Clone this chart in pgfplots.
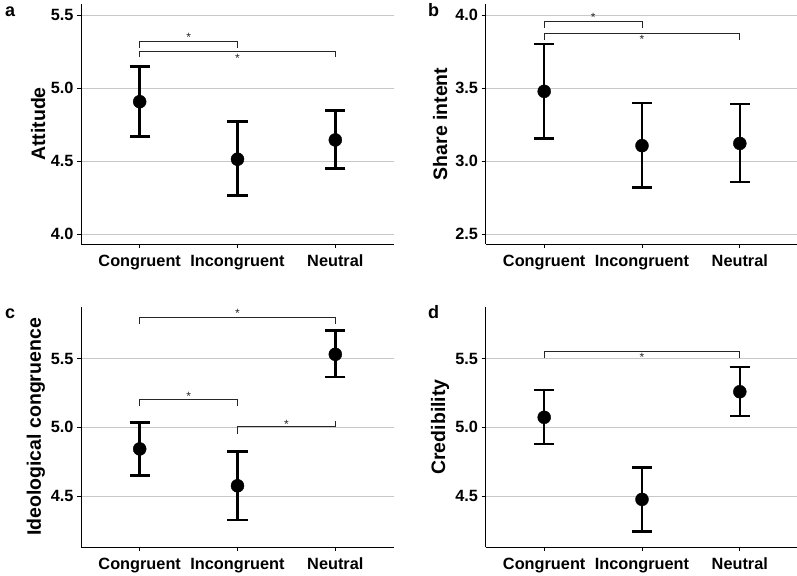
\documentclass[border=0pt]{standalone}
\usepackage{fontspec}
\setmainfont{Liberation Sans}
\usepackage{pgfplots}
\usepackage{pgfplotstable}
\pgfplotsset{compat=1.18}

\pgfplotstableread{
x y lo hi
1 4.906 4.667 5.149
2 4.512 4.262 4.770
3 4.644 4.450 4.845
}\dataA
\pgfplotstableread{
x y lo hi
1 3.477 3.153 3.800
2 3.105 2.820 3.397
3 3.120 2.856 3.390
}\dataB
\pgfplotstableread{
x y lo hi
1 4.843 4.649 5.036
2 4.575 4.326 4.823
3 5.531 5.367 5.706
}\dataC
\pgfplotstableread{
x y lo hi
1 5.073 4.879 5.272
2 4.476 4.241 4.709
3 5.259 5.083 5.439
}\dataD

\pgfplotsset{
  panel/.style={
    scale only axis, width=313bp, height=240bp,
    anchor=south west,
    axis lines*=left,
    axis line style={line width=0.8bp, black},
    xmin=0.4, xmax=3.6, xtick={1,2,3},
    xticklabels={Congruent,Incongruent,Neutral},
    ymajorgrids, grid style={line width=0.8bp, black!22},
    tick style={line width=0.8bp, black},
    tick align=outside, major tick length=4bp,
    ticklabel style={font=\bfseries\fontsize{16.3bp}{18bp}\selectfont, black},
    xticklabel style={text height=12bp, text depth=3.5bp, yshift=-3bp},
    /pgf/number format/assume math mode=true,
    yticklabel style={/pgf/number format/fixed, /pgf/number format/fixed zerofill, /pgf/number format/precision=1},
    label style={font=\bfseries\fontsize{19.5bp}{22bp}\selectfont, black},
    clip=false,
  },
  errplot/.style={only marks, mark=*, mark size=6.5bp, black,
    mark options={fill=black, draw=black},
    error bars/.cd, y dir=both, y explicit,
    error bar style={line width=2.6bp, black},
    error mark options={rotate=90, mark size=10bp, line width=2.6bp, black}},
  bracket/.style={line width=1bp, black!85},
}
\tikzset{star/.style={font=\fontsize{12bp}{12bp}\selectfont, inner sep=0pt, anchor=center, black!85, yshift=-1.5bp}}

\begin{document}
\begin{tikzpicture}
\useasboundingbox (0,0) rectangle (797bp,576bp);

% panel a
\begin{axis}[panel, at={(81bp,332bp)}, ymin=3.9315, ymax=5.575, ytick={4,4.5,5,5.5},
  ylabel={Attitude}, ylabel style={at={(axis description cs:-0.137,0.5)}, anchor=center}]
\addplot[bracket] coordinates {(1,5.277) (1,5.32) (2,5.32) (2,5.277)};
\addplot[bracket] coordinates {(1,5.21) (1,5.249) (3,5.249) (3,5.21)};
\node[star] at (axis cs:1.5,5.36) {*};
\node[star] at (axis cs:2,5.215) {*};
\addplot[errplot] table[x=x, y=y, y error plus expr=\thisrow{hi}-\thisrow{y}, y error minus expr=\thisrow{y}-\thisrow{lo}] {\dataA};
\end{axis}

% panel b
\begin{axis}[panel, at={(485.5bp,332bp)}, ymin=2.4315, ymax=4.075, ytick={2.5,3,3.5,4},
  ylabel={Share intent}, ylabel style={at={(axis description cs:-0.145,0.5)}, anchor=center}]
\addplot[bracket] coordinates {(1,3.909) (1,3.954) (2,3.954) (2,3.909)};
\addplot[bracket] coordinates {(1,3.83) (1,3.875) (3,3.875) (3,3.83)};
\node[star] at (axis cs:1.5,3.995) {*};
\node[star] at (axis cs:2,3.84) {*};
\addplot[errplot] table[x=x, y=y, y error plus expr=\thisrow{hi}-\thisrow{y}, y error minus expr=\thisrow{y}-\thisrow{lo}] {\dataB};
\end{axis}

% panel c
\begin{axis}[panel, at={(81bp,29bp)}, ymin=4.13, ymax=5.875, ytick={4.5,5,5.5},
  ylabel={Ideological congruence}, ylabel style={at={(axis description cs:-0.144,0.5)}, anchor=center}]
\addplot[bracket] coordinates {(1,5.754) (1,5.798) (3,5.798) (3,5.754)};
\addplot[bracket] coordinates {(1,5.153) (1,5.201) (2,5.201) (2,5.153)};
\addplot[bracket] coordinates {(2,4.952) (2,5.007) (3,5.007) (3,5.049)};
\node[star] at (axis cs:2,5.838) {*};
\node[star] at (axis cs:1.5,5.237) {*};
\node[star] at (axis cs:2.5,5.036) {*};
\addplot[errplot] table[x=x, y=y, y error plus expr=\thisrow{hi}-\thisrow{y}, y error minus expr=\thisrow{y}-\thisrow{lo}] {\dataC};
\end{axis}

% panel d
\begin{axis}[panel, at={(485.5bp,29bp)}, ymin=4.13, ymax=5.875, ytick={4.5,5,5.5},
  ylabel={Credibility}, ylabel style={at={(axis description cs:-0.145,0.5)}, anchor=center}]
\addplot[bracket] coordinates {(1,5.504) (1,5.548) (3,5.548) (3,5.504)};
\node[star] at (axis cs:2,5.519) {*};
\addplot[errplot] table[x=x, y=y, y error plus expr=\thisrow{hi}-\thisrow{y}, y error minus expr=\thisrow{y}-\thisrow{lo}] {\dataD};
\end{axis}

\node[anchor=base west, inner sep=0pt, font=\bfseries\fontsize{18bp}{20bp}\selectfont] at (5bp,559bp) {a};
\node[anchor=base west, inner sep=0pt, font=\bfseries\fontsize{18bp}{20bp}\selectfont] at (428bp,559bp) {b};
\node[anchor=base west, inner sep=0pt, font=\bfseries\fontsize{18bp}{20bp}\selectfont] at (5bp,257bp) {c};
\node[anchor=base west, inner sep=0pt, font=\bfseries\fontsize{18bp}{20bp}\selectfont] at (428bp,257bp) {d};
\end{tikzpicture}
\end{document}
